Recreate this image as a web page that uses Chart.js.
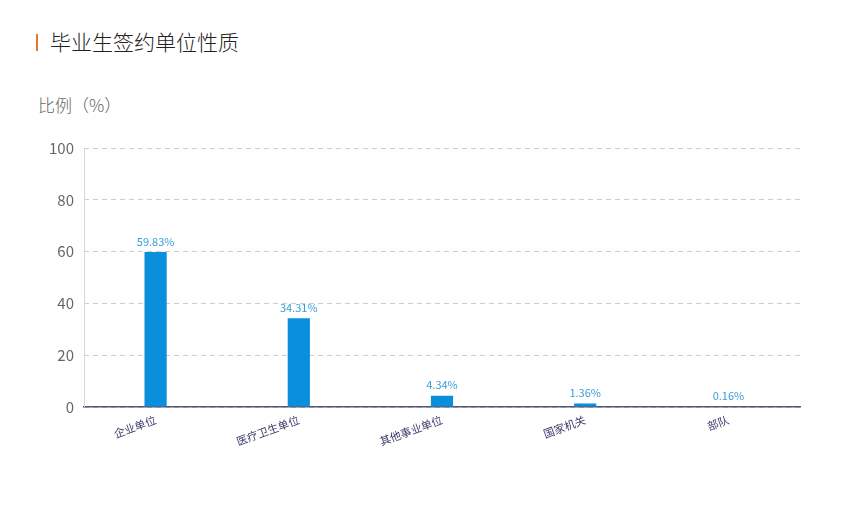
<!DOCTYPE html>
<html>
<head>
<meta charset="utf-8">
<script src="https://cdn.jsdelivr.net/npm/chart.js@4"></script>
<style>
  body { margin: 0; background: #fff; font-family: "Noto Sans CJK SC", sans-serif; }
  #wrap { position: relative; width: 848px; height: 505px; }
  #title { position: absolute; left: 36px; top: 26px; font-size: 21px; color: #222; font-weight: 300; }
  #title span { display: inline-block; width: 2px; height: 17px; background: #e8772e; margin-right: 12px; vertical-align: -1px; }
  #ytitle { position: absolute; left: 38px; top: 92px; font-size: 17px; color: #666; font-weight: 300; }
  canvas { position: absolute; left: 0; top: 0; }
</style>
</head>
<body>
<div id="wrap">
  <div id="title"><span></span>毕业生签约单位性质</div>
  <div id="ytitle">比例（%）</div>
  <canvas id="chart" width="848" height="505"></canvas>
</div>
<script>
// categories and values
const categories = ['企业单位', '医疗卫生单位', '其他事业单位', '国家机关', '部队'];
const shares = [59.83, 34.31, 4.34, 1.36, 0.16];
const yTicks = [0, 20, 40, 60, 80, 100];

// Draw the percent labels above each bar, plus the faint solid y axis line
const valueLabels = {
    id: 'valueLabels',
    afterDatasetsDraw(chart) {
        const ctx = chart.ctx;
        const area = chart.chartArea;
        ctx.save();
        ctx.strokeStyle = '#d8d8d8';
        ctx.lineWidth = 1;
        ctx.beginPath();
        ctx.moveTo(area.left + 0.5, area.top);
        ctx.lineTo(area.left + 0.5, area.bottom);
        ctx.stroke();

        ctx.font = '11px "Noto Sans CJK SC", sans-serif';
        ctx.fillStyle = '#3a9ddb';
        ctx.textAlign = 'center';
        ctx.textBaseline = 'bottom';
        chart.getDatasetMeta(0).data.forEach((bar, i) => {
            ctx.fillText(shares[i].toFixed(2) + '%', bar.x, bar.y - 5);
        });
        ctx.restore();
    }
};

new Chart(document.getElementById('chart'), {
    type: 'bar',
    data: {
        labels: categories,
        datasets: [{
            data: shares,
            backgroundColor: '#0a8fdc',
            barPercentage: 0.155,
            categoryPercentage: 1
        }]
    },
    options: {
        responsive: false,
        animation: false,
        layout: { padding: { top: 148, right: 48, left: 0, bottom: 0 } },
        plugins: { legend: { display: false }, tooltip: { enabled: false } },
        scales: {
            y: {
                min: 0,
                max: 100,
                afterFit(scale) { scale.width = 84; },
                afterBuildTicks(scale) { scale.ticks = yTicks.map(v => ({ value: v })); },
                border: { display: false, dash: [5, 4] },
                grid: { color: '#cccccc', drawTicks: false },
                ticks: { color: '#666', padding: 10, font: { size: 15, family: 'Noto Sans CJK SC' } }
            },
            x: {
                afterFit(scale) { scale.height = 98; },
                border: { color: '#555577', width: 1.5 },
                grid: { display: false },
                ticks: {
                    color: '#3b3b6b',
                    minRotation: 20,
                    maxRotation: 20,
                    padding: -2,
                    font: { size: 11, family: 'Noto Sans CJK SC' }
                }
            }
        }
    },
    plugins: [valueLabels]
});
</script>
</body>
</html>
